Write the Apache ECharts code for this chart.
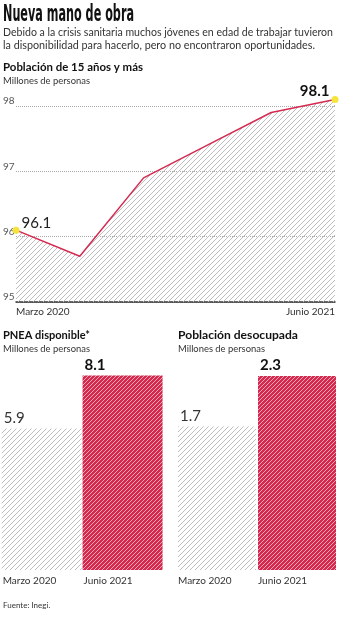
<!DOCTYPE html>
<html><head><meta charset="utf-8">
<script src="https://cdn.jsdelivr.net/npm/echarts@6/dist/echarts.min.js"></script>
<style>html,body{margin:0;padding:0;background:#fff}#c{width:340px;height:620px}</style>
</head><body><div id="c"></div>
<script>
// ---- data ----
const lineCategories = ['Marzo 2020','Junio 2020','Septiembre 2020','Diciembre 2020','Marzo 2021','Junio 2021'];
const poblacion15 = [96.1, 95.7, 96.9, 97.4, 97.9, 98.1];
const lineTicks = [95, 96, 97, 98];
const barCategories = ['Marzo 2020','Junio 2021'];
const pneaDisponible = [5.9, 8.1];
const poblacionDesocupada = [1.7, 2.3];

const FONT = 'Lato, "Open Sans", sans-serif';
const RED = '#d42a50';

function hatch(bg, fg, size, lw) {
  const c = document.createElement('canvas');
  c.width = c.height = size;
  const g = c.getContext('2d');
  if (bg) { g.fillStyle = bg; g.fillRect(0, 0, size, size); }
  g.strokeStyle = fg; g.lineWidth = lw;
  g.beginPath();
  g.moveTo(0, size); g.lineTo(size, 0);
  g.moveTo(-1, 1); g.lineTo(1, -1);
  g.moveTo(size - 1, size + 1); g.lineTo(size + 1, size - 1);
  g.stroke();
  return c;
}
const grayHatch = {image: hatch(null, '#bdbdbd', 5, 1), repeat: 'repeat'};
const redHatch = {image: hatch(RED, '#f3a5b5', 4, 1), repeat: 'repeat'};

const mctx = document.createElement('canvas').getContext('2d');
function fitScale(text, font, w) { mctx.font = font; return w / mctx.measureText(text).width; }
function fitText(text, font, x, y, w, fill) {
  return {type: 'text', x: x, y: y, scaleX: fitScale(text, font, w),
    style: {text: text, font: font, fill: fill, verticalAlign: 'middle'}};
}

const n = poblacion15.length;
const lineData = poblacion15.map((v, i) => {
  if (i === 0) return {value: v, symbol: 'circle', symbolSize: 7, itemStyle: {color: '#f5e43c'},
    label: {show: true, position: 'right', distance: 2, offset: [0, -7], fontSize: 15, color: '#222', fontFamily: FONT}};
  if (i === n - 1) return {value: v, symbol: 'circle', symbolSize: 7, itemStyle: {color: '#f5e43c'},
    label: {show: true, position: 'left', distance: 2, offset: [0, -8], fontSize: 15, fontWeight: 'bold', color: '#111', fontFamily: FONT}};
  return {value: v, symbol: 'none'};
});

function barItems(vals) {
  return vals.map((v, i) => ({
    value: v,
    itemStyle: {color: i === 0 ? grayHatch : redHatch},
    label: {show: true, position: [2, -3], align: 'left', verticalAlign: 'bottom', fontSize: 15,
      fontWeight: i === 0 ? 'normal' : 'bold', color: i === 0 ? '#333' : '#111', fontFamily: FONT}
  }));
}
function barXAxis(gi) {
  return {type: 'category', gridIndex: gi, data: barCategories,
    axisLine: {show: false}, axisTick: {show: false},
    axisLabel: {interval: 0, margin: 6, formatter: v => '{a|' + v + '}',
      rich: {a: {width: 78, align: 'left', fontSize: 10, color: '#333', fontFamily: FONT}}}};
}

const TITLE_FONT = 'bold 23px "Liberation Sans Narrow", "DejaVu Sans Condensed", sans-serif';
const SUB_FONT = '12px ' + FONT;
const chart = echarts.init(document.getElementById('c'), null, {renderer: 'canvas'});
chart.setOption({
  animation: false,
  backgroundColor: '#fff',
  textStyle: {fontFamily: FONT},
  graphic: [
    fitText('Nueva mano de obra', TITLE_FONT, 3, 15, 131, '#111'),
    fitText('Debido a la crisis sanitaria muchos jóvenes en edad de trabajar tuvieron', SUB_FONT, 3, 32, 330, '#333'),
    fitText('la disponibilidad para hacerlo, pero no encontraron oportunidades.', SUB_FONT, 3, 45, 312, '#333'),
    fitText('Población de 15 años y más', 'bold 12px ' + FONT, 3, 67, 140, '#111'),
    fitText('Millones de personas', '10px ' + FONT, 3, 81, 87, '#333'),
    fitText('PNEA disponible*', 'bold 12px ' + FONT, 3, 335, 87, '#111'),
    fitText('Millones de personas', '10px ' + FONT, 3, 349, 87, '#333'),
    fitText('Población desocupada', 'bold 12px ' + FONT, 178, 335, 120, '#111'),
    fitText('Millones de personas', '10px ' + FONT, 178, 349, 87, '#333'),
    {type: 'text', x: 3, y: 605, style: {text: 'Fuente: Inegi.', font: '8px ' + FONT, fill: '#333', verticalAlign: 'middle'}}
  ],
  grid: [
    {left: 15, right: 5, top: 106, height: 196},
    {left: 0, width: 163, top: 330, height: 240},
    {left: 177, width: 160, top: 359, height: 211}
  ],
  xAxis: [
    {type: 'category', gridIndex: 0, data: lineCategories, boundaryGap: false,
      axisLine: {lineStyle: {color: '#333', width: 1.5}}, axisTick: {show: false},
      axisLabel: {interval: (i) => i === 0 || i === n - 1, alignMinLabel: 'left', alignMaxLabel: 'right',
        fontSize: 10, color: '#333', margin: 5}},
    barXAxis(1), barXAxis(2)
  ],
  yAxis: [
    {type: 'value', gridIndex: 0, min: lineTicks[0], max: lineTicks[lineTicks.length - 1], interval: 1,
      axisLine: {show: false}, axisTick: {show: false},
      axisLabel: {fontSize: 10, color: '#555', align: 'left', margin: 13, verticalAlign: 'bottom'},
      splitLine: {lineStyle: {type: 'dotted', color: '#aaa'}}},
    {type: 'value', gridIndex: 1, min: 0, max: 10, show: false, splitLine: {show: false}},
    {type: 'value', gridIndex: 2, min: 0, max: 2.5, show: false, splitLine: {show: false}}
  ],
  series: [
    {type: 'line', xAxisIndex: 0, yAxisIndex: 0, data: lineData, clip: false,
      lineStyle: {color: RED, width: 1.5}, itemStyle: {color: RED},
      areaStyle: {color: grayHatch, opacity: 1}, z: 3},
    {type: 'bar', xAxisIndex: 1, yAxisIndex: 1, data: barItems(pneaDisponible), barWidth: 80},
    {type: 'bar', xAxisIndex: 2, yAxisIndex: 2, data: barItems(poblacionDesocupada), barWidth: 78}
  ]
});
</script></body></html>
